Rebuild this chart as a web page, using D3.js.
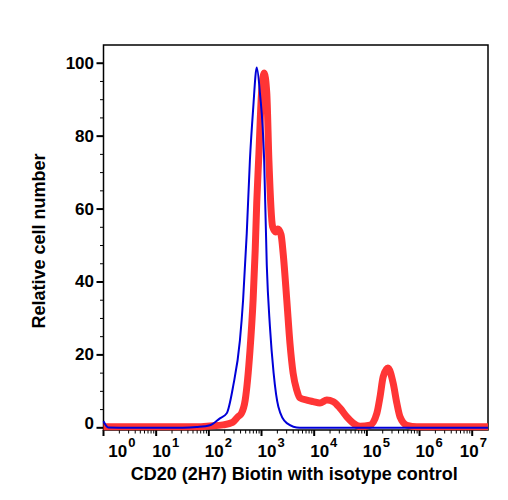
<!DOCTYPE html>
<html>
<head>
<meta charset="utf-8">
<script src="https://cdn.jsdelivr.net/npm/d3@7"></script>
<style>
  body { margin: 0; background: #fff; }
  svg { display: block; }
  text { font-family: "Liberation Sans", Arial, Helvetica, sans-serif; font-weight: bold; fill: #000; }
</style>
</head>
<body>
<svg id="chart" width="508" height="500"></svg>
<script>
// log10 of fluorescence intensity (x) and relative cell number (y)
const isotypeX = [0, 0.09, 0.5, 1.0, 1.5, 1.77, 2.02, 2.21, 2.34, 2.46, 2.59, 2.65, 2.72, 2.78, 2.84, 2.91, 2.97, 3.05, 3.10, 3.16, 3.23, 3.32, 3.48, 3.73, 4.5, 5.5, 6.5, 7.3];
const isotypeY = [1.8, 0.1, 0, 0, 0, 0.2, 0.7, 2.6, 4.0, 11.3, 24, 35, 53.4, 73.5, 87.2, 98.8, 91.8, 73.5, 44.6, 27.7, 15, 5.8, 1.3, 0, 0, 0, 0, 0];

const cd20X = [0, 0.5, 1.0, 1.5, 1.77, 2.02, 2.27, 2.45, 2.55, 2.62, 2.69, 2.78, 2.84, 2.88, 2.91, 2.95, 3.00, 3.05, 3.10, 3.14, 3.21, 3.27, 3.31, 3.37, 3.41, 3.48, 3.54, 3.60, 3.67, 3.73, 3.86, 3.98, 4.11, 4.24, 4.36, 4.49, 4.62, 4.74, 4.87, 5.06, 5.19, 5.25, 5.31, 5.40, 5.50, 5.57, 5.63, 5.76, 5.95, 6.5, 7.3];
const cd20Y = [0.3, 0.3, 0.3, 0.3, 0.3, 0.5, 0.8, 1.5, 3.0, 4.0, 7.6, 21, 35, 48.7, 62, 75, 91.8, 97.3, 91.8, 73.4, 55.2, 53.7, 54.5, 53, 48, 35, 23.2, 15, 10.3, 8.2, 7.6, 7.2, 6.8, 7.6, 7.2, 5.4, 3.0, 1.3, 0.4, 0.7, 4.0, 8.5, 14, 16.4, 12.2, 6.7, 3.0, 0.7, 0.3, 0.3, 0.3];

const yTicks = [0, 20, 40, 60, 80, 100];
const yMinorTicks = [5, 10, 15, 25, 30, 35, 45, 50, 55, 65, 70, 75, 85, 90, 95];
const xDecades = [0, 1, 2, 3, 4, 5, 6, 7];

const xTitle = "CD20 (2H7) Biotin with isotype control";
const yTitle = "Relative cell number";

const svg = d3.select("#chart");
const L = 103.5, R = 488, T = 45, B = 430;

const x = d3.scaleLinear().domain([0, 7.3]).range([L, R]);
const y = d3.scaleLinear().domain([-0.6, 105]).range([B, T]);

// frame
svg.append("rect").attr("x", L).attr("y", T).attr("width", R - L).attr("height", B - T)
  .attr("fill", "none").attr("stroke", "#000").attr("stroke-width", 1.5);

// y ticks
const yAxis = svg.append("g");
yTicks.forEach(v => {
  yAxis.append("line").attr("x1", L - 7).attr("x2", L).attr("y1", y(v)).attr("y2", y(v))
    .attr("stroke", "#000").attr("stroke-width", 2);
  yAxis.append("text").attr("x", 94).attr("y", y(v) + (v === 0 ? -4.5 : 0))
    .attr("text-anchor", "end").attr("dominant-baseline", "central")
    .style("font-size", "17px").text(v);
});
yMinorTicks.forEach(v => {
  yAxis.append("line").attr("x1", L - 3.5).attr("x2", L).attr("y1", y(v)).attr("y2", y(v))
    .attr("stroke", "#000").attr("stroke-width", 1);
});

// x ticks (log decades)
const xAxis = svg.append("g");
xDecades.forEach(d => {
  xAxis.append("line").attr("x1", x(d)).attr("x2", x(d)).attr("y1", B).attr("y2", B + 6)
    .attr("stroke", "#000").attr("stroke-width", 2);
  for (let m = 2; m <= 9; m++) {
    const lv = d + Math.log10(m);
    if (lv > 7.3) break;
    xAxis.append("line").attr("x1", x(lv)).attr("x2", x(lv)).attr("y1", B).attr("y2", B + 3.5)
      .attr("stroke", "#000").attr("stroke-width", 1);
  }
  const t = xAxis.append("text").attr("y", 456.7).style("font-size", "17px");
  if (d === 0) t.attr("x", 108.3).attr("text-anchor", "start");
  else if (d === 7) t.attr("x", 487).attr("text-anchor", "end");
  else t.attr("x", x(d) - 4).attr("text-anchor", "start");
  t.append("tspan").text("10");
  t.append("tspan").attr("dx", 1).attr("dy", -10).style("font-size", "13px").text(d);
});

// curves
const line = d3.line().x(d => x(d[0])).y(d => y(d[1])).curve(d3.curveMonotoneX);
svg.append("path").datum(d3.zip(cd20X, cd20Y)).attr("d", line)
  .attr("fill", "none").attr("stroke", "#ff3535").attr("stroke-width", 7);
svg.append("path").datum(d3.zip(isotypeX, isotypeY)).attr("d", line)
  .attr("fill", "none").attr("stroke", "#0000d8").attr("stroke-width", 2);

// titles
svg.append("text").attr("x", 294.2).attr("y", 480).attr("text-anchor", "middle")
  .style("font-size", "18px").text(xTitle);
svg.append("text").attr("transform", "translate(45,241) rotate(-90)").attr("text-anchor", "middle")
  .style("font-size", "18px").text(yTitle);
</script>
</body>
</html>
